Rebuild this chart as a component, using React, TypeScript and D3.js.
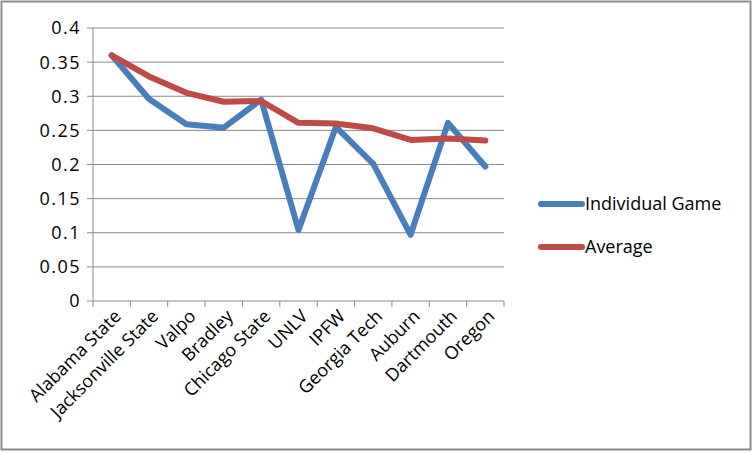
import React from "react";
import * as d3 from "d3";

const categories = ["Alabama State", "Jacksonville State", "Valpo", "Bradley", "Chicago State", "UNLV", "IPFW", "Georgia Tech", "Auburn", "Dartmouth", "Oregon"];
const individualGame = [0.360, 0.296, 0.259, 0.254, 0.295, 0.104, 0.255, 0.201, 0.097, 0.261, 0.197];
const average = [0.360, 0.329, 0.305, 0.292, 0.293, 0.261, 0.260, 0.253, 0.236, 0.238, 0.235];
const yTicks = [0, 0.05, 0.1, 0.15, 0.2, 0.25, 0.3, 0.35, 0.4];
const seriesNames = ["Individual Game", "Average"];
const colors = ["#4a7ebb", "#be4b48"];

const W = 753, H = 452;
const plot = { left: 93, right: 504, top: 28, bottom: 301 };
const FONT = "'Open Sans', Lato, sans-serif";

export default function App() {
  const x = d3.scaleBand<string>().domain(categories).range([plot.left, plot.right]).padding(0);
  const y = d3.scaleLinear().domain([0, 0.4]).range([plot.bottom, plot.top]);
  const line = d3.line<number>()
    .x((_, i) => (x(categories[i]) as number) + x.bandwidth() / 2)
    .y((d) => y(d));
  const series = [individualGame, average];
  const tickEdges = [...categories.map((c) => x(c) as number), plot.right];

  return (
    <svg width={W} height={H} style={{ position: "absolute", left: 0, top: 0, background: "#fff" }} fontFamily={FONT}>
      <rect x={1.5} y={1.5} width={749} height={448} fill="#fff" stroke="#8c8c8c" strokeWidth={2} />
      {yTicks.map((t) => (
        <g key={t}>
          <line x1={plot.left - 6} x2={plot.right} y1={y(t)} y2={y(t)} stroke="#8a8a8a" strokeWidth={1} />
          <text x={81} y={y(t)} dy="0.36em" textAnchor="end" fontSize={18} letterSpacing={1.5} fill="#000">{String(t)}</text>
        </g>
      ))}
      <line x1={plot.left} x2={plot.left} y1={plot.top} y2={plot.bottom} stroke="#8a8a8a" strokeWidth={1} />
      {tickEdges.map((tx, i) => (
        <line key={i} x1={tx} x2={tx} y1={plot.bottom} y2={plot.bottom + 6} stroke="#8a8a8a" strokeWidth={1} />
      ))}
      {categories.map((c) => {
        const cx = (x(c) as number) + x.bandwidth() / 2 + 6;
        const cy = plot.bottom + 12;
        return (
          <text key={c} x={cx} y={cy} textAnchor="end" fontSize={18} fill="#000" transform={`rotate(-45 ${cx} ${cy})`} dy="0.35em">{c}</text>
        );
      })}
      {series.map((s, i) => (
        <path key={i} d={line(s) as string} fill="none" stroke={colors[i]} strokeWidth={6} strokeLinejoin="round" strokeLinecap="round" />
      ))}
      {seriesNames.map((n, i) => {
        const ly = 204 + i * 43;
        return (
          <g key={n}>
            <line x1={541} x2={582} y1={ly} y2={ly} stroke={colors[i]} strokeWidth={6} strokeLinecap="round" />
            <text x={585} y={ly} dy="0.36em" fontSize={18} fill="#000">{n}</text>
          </g>
        );
      })}
    </svg>
  );
}
